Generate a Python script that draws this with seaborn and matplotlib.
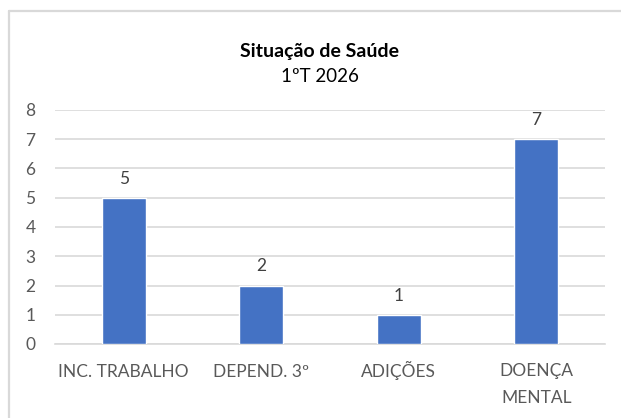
import matplotlib
matplotlib.use("Agg")
import matplotlib.pyplot as plt
from matplotlib.lines import Line2D
from matplotlib.transforms import ScaledTranslation
import seaborn as sns
import pandas as pd

categories = ["INC. TRABALHO", "DEPEND. 3º", "ADIÇÕES", "DOENÇA\nMENTAL"]
values = [5, 2, 1, 7]
y_ticks = [0, 1, 2, 3, 4, 5, 6, 7, 8]
title = "Situação de Saúde"
subtitle = "1ºT 2026"

sns.set_theme(style="white")
plt.rcParams["font.family"] = ["Lato", "DejaVu Sans"]

W, H = 621, 418
fig = plt.figure(figsize=(W / 100, H / 100), dpi=100)
ax = fig.add_axes([55 / W, (H - 344) / H, 550 / W, 234 / H])

df = pd.DataFrame({"cat": categories, "val": values})
sns.barplot(data=df, x="cat", y="val", color="#4472C4", width=0.32,
            saturation=1, ax=ax, zorder=3)

ax.set_ylim(0, 8)
ax.set_xlim(-0.5, 3.5)
ax.set_yticks(y_ticks)
ax.set_xlabel("")
ax.set_ylabel("")
ax.grid(axis="y", color="#d9d9d9", linewidth=1.2, zorder=0)
ax.grid(axis="x", visible=False)
for s in ["top", "right", "left"]:
    ax.spines[s].set_visible(False)
ax.spines["bottom"].set_color("#d9d9d9")
ax.spines["bottom"].set_linewidth(1.2)
ax.tick_params(axis="both", length=0, labelsize=12.5, colors="#595959")
ax.tick_params(axis="y", pad=14)
ax.tick_params(axis="x", pad=24)
for lbl in ax.get_xticklabels():
    lbl.set_linespacing(1.9)
    lbl.set_verticalalignment("baseline")
    n_extra = lbl.get_text().count("\n")
    if n_extra:
        lbl.set_transform(lbl.get_transform() +
                          ScaledTranslation(0, -0.26 * n_extra, fig.dpi_scale_trans))

for i, v in enumerate(values):
    ax.annotate(str(v), (i, v), xytext=(0, 8), textcoords="offset points",
                ha="center", va="bottom", fontsize=12.5, color="#404040")

fig.text(0.5 + 9 / W, 1 - 52 / H, title, ha="center", va="center",
         fontsize=14, fontweight="bold", color="#000000")
fig.text(0.5 + 9 / W, 1 - 77 / H, subtitle, ha="center", va="center",
         fontsize=13.5, color="#000000")

fig.add_artist(Line2D([9 / W, 9 / W], [0, 1 - 10.5 / H], transform=fig.transFigure,
                      color="#d9d9d9", linewidth=1.6))
fig.add_artist(Line2D([9 / W, 1], [1 - 10.5 / H, 1 - 10.5 / H], transform=fig.transFigure,
                      color="#d9d9d9", linewidth=1.6))

fig.savefig("out.png", dpi=100, facecolor="white")
